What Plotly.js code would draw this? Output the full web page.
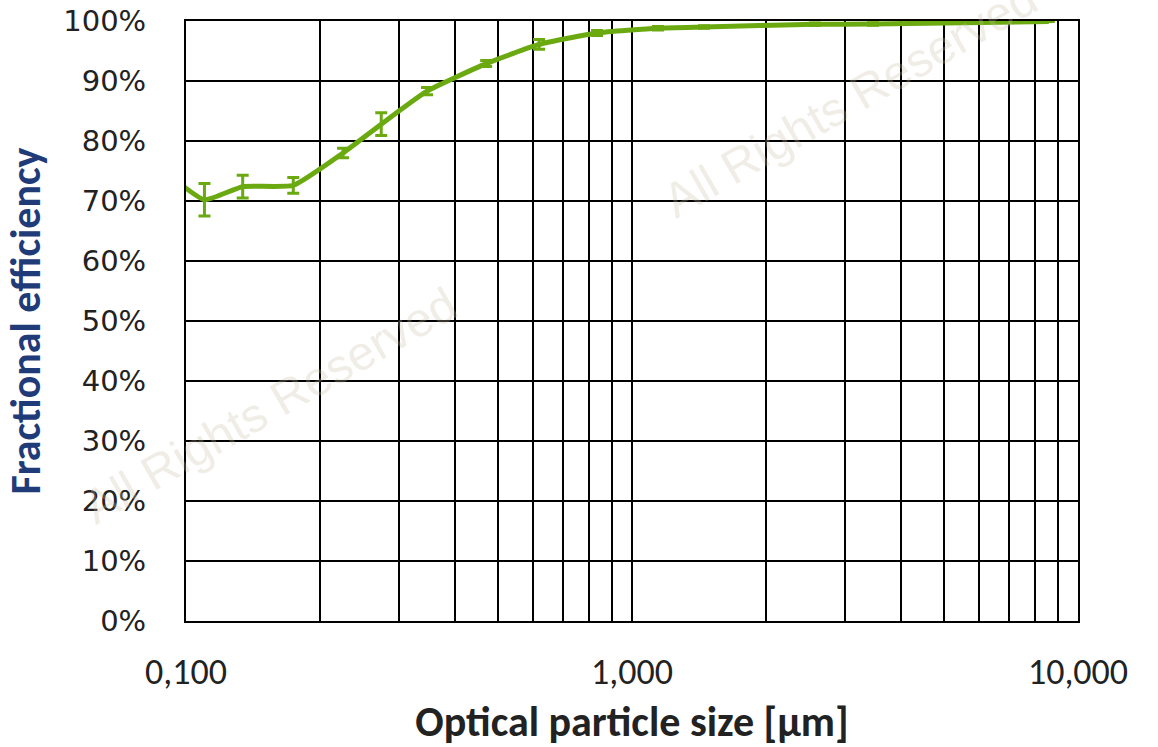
<!DOCTYPE html>
<html>
<head>
<meta charset="utf-8">
<script src="https://cdn.plot.ly/plotly-3.0.1.min.js"></script>
<style>
  html, body { margin: 0; padding: 0; background: #fff; }
  #chart { width: 1158px; height: 747px; }
</style>
</head>
<body>
<div id="chart"></div>
<script>
// Particle size (µm) and measured fractional efficiency with error
const particleSize = [0.09, 0.110, 0.134, 0.174, 0.225, 0.274, 0.347, 0.471, 0.619, 0.835, 1.144, 1.45, 2.57, 3.47, 8.6];
const efficiency   = [0.748, 0.702, 0.724, 0.726, 0.780, 0.828, 0.883, 0.929, 0.961, 0.980, 0.988, 0.990, 0.9945, 0.995, 0.999];
const errorValues  = [0.0, 0.027, 0.019, 0.013, 0.008, 0.019, 0.006, 0.005, 0.008, 0.004, 0.003, 0.002, 0.002, 0.002, 0.0];

const xTickVals = [0.1, 1, 10];
const xTickText = ['0,100', '1,000', '10,000'];
const xMinorVals = [0.2, 0.3, 0.4, 0.5, 0.6, 0.7, 0.8, 0.9, 2, 3, 4, 5, 6, 7, 8, 9];

const green = '#6aaa10';
const narrowFont = 'Carlito, "Liberation Sans Narrow", "Open Sans", sans-serif';

const trace = {
  x: particleSize,
  y: efficiency,
  type: 'scatter',
  mode: 'lines',
  line: { color: green, width: 5, shape: 'spline', smoothing: 0.45 },
  error_y: { type: 'data', array: errorValues, visible: true, color: green, thickness: 3, width: 6 },
  hoverinfo: 'x+y'
};

const watermarkFont = { family: 'Liberation Sans, Arial, sans-serif', size: 48, color: 'rgba(200,190,170,0.28)' };

const layout = {
  width: 1158,
  height: 747,
  margin: { l: 186, r: 80, t: 21, b: 126 },
  paper_bgcolor: '#ffffff',
  plot_bgcolor: '#ffffff',
  showlegend: false,
  xaxis: {
    type: 'log',
    range: [-1, 1],
    tickmode: 'array',
    tickvals: xTickVals,
    ticktext: xTickText,
    ticks: '',
    ticklabelstandoff: 18,
    showgrid: true,
    gridcolor: '#000000',
    gridwidth: 2,
    minor: { tickmode: 'array', tickvals: xMinorVals, showgrid: true, gridcolor: '#000000', gridwidth: 2, ticks: '' },
    showline: true,
    linecolor: '#000000',
    linewidth: 2,
    mirror: true,
    zeroline: false,
    tickfont: { family: narrowFont, size: 36, color: '#222222' },
    title: {
      text: 'Optical particle size [µm]',
      font: { family: narrowFont, size: 42, color: '#222222', weight: 'bold' },
      standoff: 14
    }
  },
  yaxis: {
    range: [0, 1],
    tickmode: 'linear',
    tick0: 0,
    dtick: 0.1,
    tickformat: '.0%',
    ticks: '',
    ticklabelstandoff: 32,
    showgrid: true,
    gridcolor: '#000000',
    gridwidth: 2,
    showline: true,
    linecolor: '#000000',
    linewidth: 2,
    mirror: true,
    zeroline: false,
    tickfont: { family: '"DejaVu Sans", Verdana, sans-serif', size: 29, color: '#222222' },
    title: {
      text: 'Fractional efficiency',
      font: { family: narrowFont, size: 42, color: '#1f3b78', weight: 'bold' },
      standoff: 12
    }
  },
  annotations: [
    { text: 'All Rights Reserved', xref: 'paper', yref: 'paper', x: 0.094, y: 0.36, xanchor: 'center', yanchor: 'middle', showarrow: false, textangle: -30, font: watermarkFont },
    { text: 'All Rights Reserved', xref: 'paper', yref: 'paper', x: 0.744, y: 0.87, xanchor: 'center', yanchor: 'middle', showarrow: false, textangle: -30, font: watermarkFont }
  ]
};

Plotly.newPlot('chart', [trace], layout, { displayModeBar: false, staticPlot: true });
</script>
</body>
</html>
